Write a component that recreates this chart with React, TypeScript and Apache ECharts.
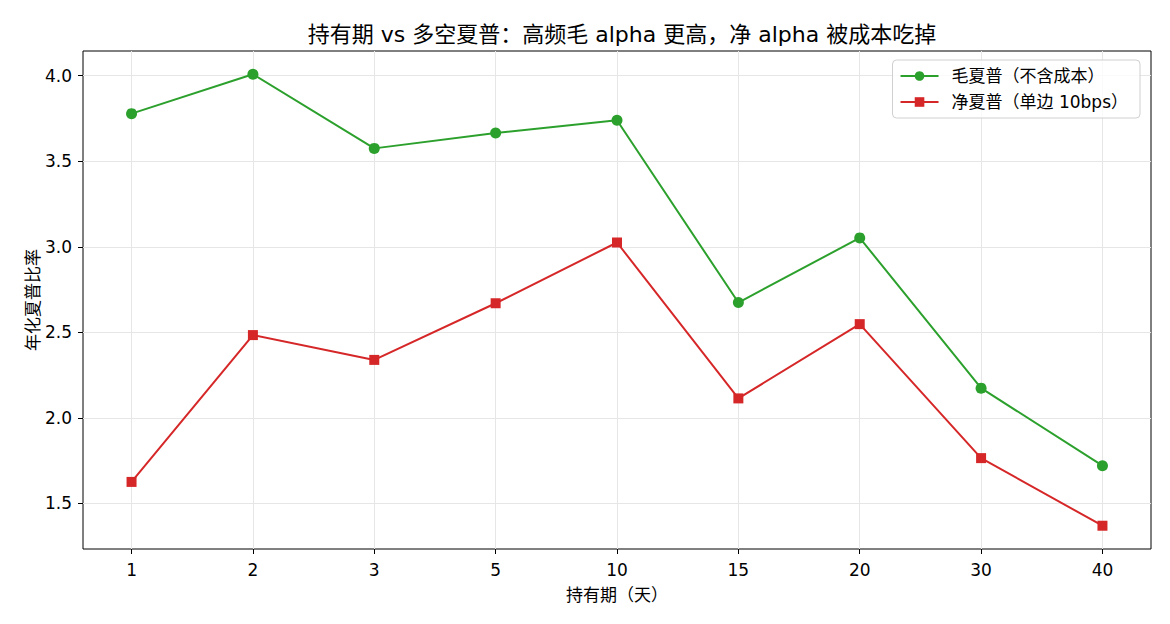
import React, { useEffect, useRef } from "react";
import * as echarts from "echarts";

const holdingPeriods = ["1", "2", "3", "5", "10", "15", "20", "30", "40"];
const grossSharpe = [3.778, 4.008, 3.575, 3.665, 3.739, 2.674, 3.052, 2.174, 1.721];
const netSharpe = [1.626, 2.484, 2.339, 2.670, 3.025, 2.114, 2.548, 1.765, 1.370];
const yTicks = [1.5, 2.0, 2.5, 3.0, 3.5, 4.0];
const xTickIdx = holdingPeriods.map((_, i) => i);

const FONT = "'DejaVu Sans', 'Noto Sans CJK SC', sans-serif";

export default function App() {
  const ref = useRef<HTMLDivElement>(null);
  useEffect(() => {
    if (!ref.current) return;
    const chart = echarts.init(ref.current, undefined, { renderer: "svg" });
    const toPairs = (arr: number[]) => arr.map((v, i) => [i, v]);
    chart.setOption({
      animation: false,
      backgroundColor: "#ffffff",
      textStyle: { fontFamily: FONT },
      title: {
        text: "持有期 vs 多空夏普：高频毛 alpha 更高，净 alpha 被成本吃掉",
        left: 617,
        textAlign: "center",
        top: 18,
        textStyle: { fontFamily: FONT, fontSize: 22, fontWeight: "normal", color: "#000" },
      },
      legend: {
        right: 30,
        top: 60,
        orient: "vertical",
        itemWidth: 38,
        itemHeight: 12,
        itemGap: 6,
        padding: [6, 12, 6, 7],
        borderColor: "#d0d0d0",
        borderWidth: 1,
        borderRadius: 4,
        backgroundColor: "rgba(255,255,255,0.8)",
        textStyle: {
          fontFamily: FONT,
          fontSize: 17,
          lineHeight: 20,
          color: "#000",
          padding: [0, 0, 0, 8],
        },
        data: ["毛夏普（不含成本）", "净夏普（单边 10bps）"],
      },
      grid: {
        left: 83,
        right: 19,
        top: 51,
        bottom: 75,
        show: true,
        borderColor: "#000",
        borderWidth: 1,
        backgroundColor: "transparent",
      },
      xAxis: {
        type: "value",
        min: -0.4,
        max: 8.4,
        minInterval: 1,
        maxInterval: 1,
        name: "持有期（天）",
        nameLocation: "middle",
        nameGap: 37,
        nameMoveOverlap: false,
        nameTextStyle: { fontFamily: FONT, fontSize: 17, color: "#000" },
        axisLine: { show: false, onZero: false },
        axisTick: {
          show: true,
          inside: false,
          length: 5,
          customValues: xTickIdx,
          lineStyle: { color: "#000" },
        },
        axisLabel: {
          customValues: xTickIdx,
          margin: 12,
          fontFamily: FONT,
          fontSize: 17,
          color: "#000",
          formatter: (v: number) => holdingPeriods[Math.round(v)] ?? "",
        },
        splitLine: { show: true, lineStyle: { color: "#e6e6e6", width: 1 } },
      },
      yAxis: {
        type: "value",
        min: 1.234,
        max: 4.144,
        minInterval: 0.5,
        maxInterval: 0.5,
        name: "年化夏普比率",
        nameLocation: "middle",
        nameGap: 42,
        nameMoveOverlap: false,
        nameTextStyle: { fontFamily: FONT, fontSize: 17, color: "#000" },
        axisLine: { show: false, onZero: false },
        axisTick: {
          show: true,
          length: 5,
          customValues: yTicks,
          lineStyle: { color: "#000" },
        },
        axisLabel: {
          customValues: yTicks,
          margin: 11,
          fontFamily: FONT,
          fontSize: 17,
          color: "#000",
          formatter: (v: number) => v.toFixed(1),
        },
        splitLine: { show: true, lineStyle: { color: "#e6e6e6", width: 1 } },
      },
      series: [
        {
          name: "毛夏普（不含成本）",
          type: "line",
          data: toPairs(grossSharpe),
          symbol: "circle",
          symbolSize: 11,
          itemStyle: { color: "#2ca02c" },
          lineStyle: { color: "#2ca02c", width: 2 },
        },
        {
          name: "净夏普（单边 10bps）",
          type: "line",
          data: toPairs(netSharpe),
          symbol: "rect",
          symbolSize: 10,
          itemStyle: { color: "#d62728" },
          lineStyle: { color: "#d62728", width: 2 },
        },
      ],
    });
    return () => chart.dispose();
  }, []);
  return <div ref={ref} style={{ width: 1170, height: 624, margin: -8 }} />;
}
